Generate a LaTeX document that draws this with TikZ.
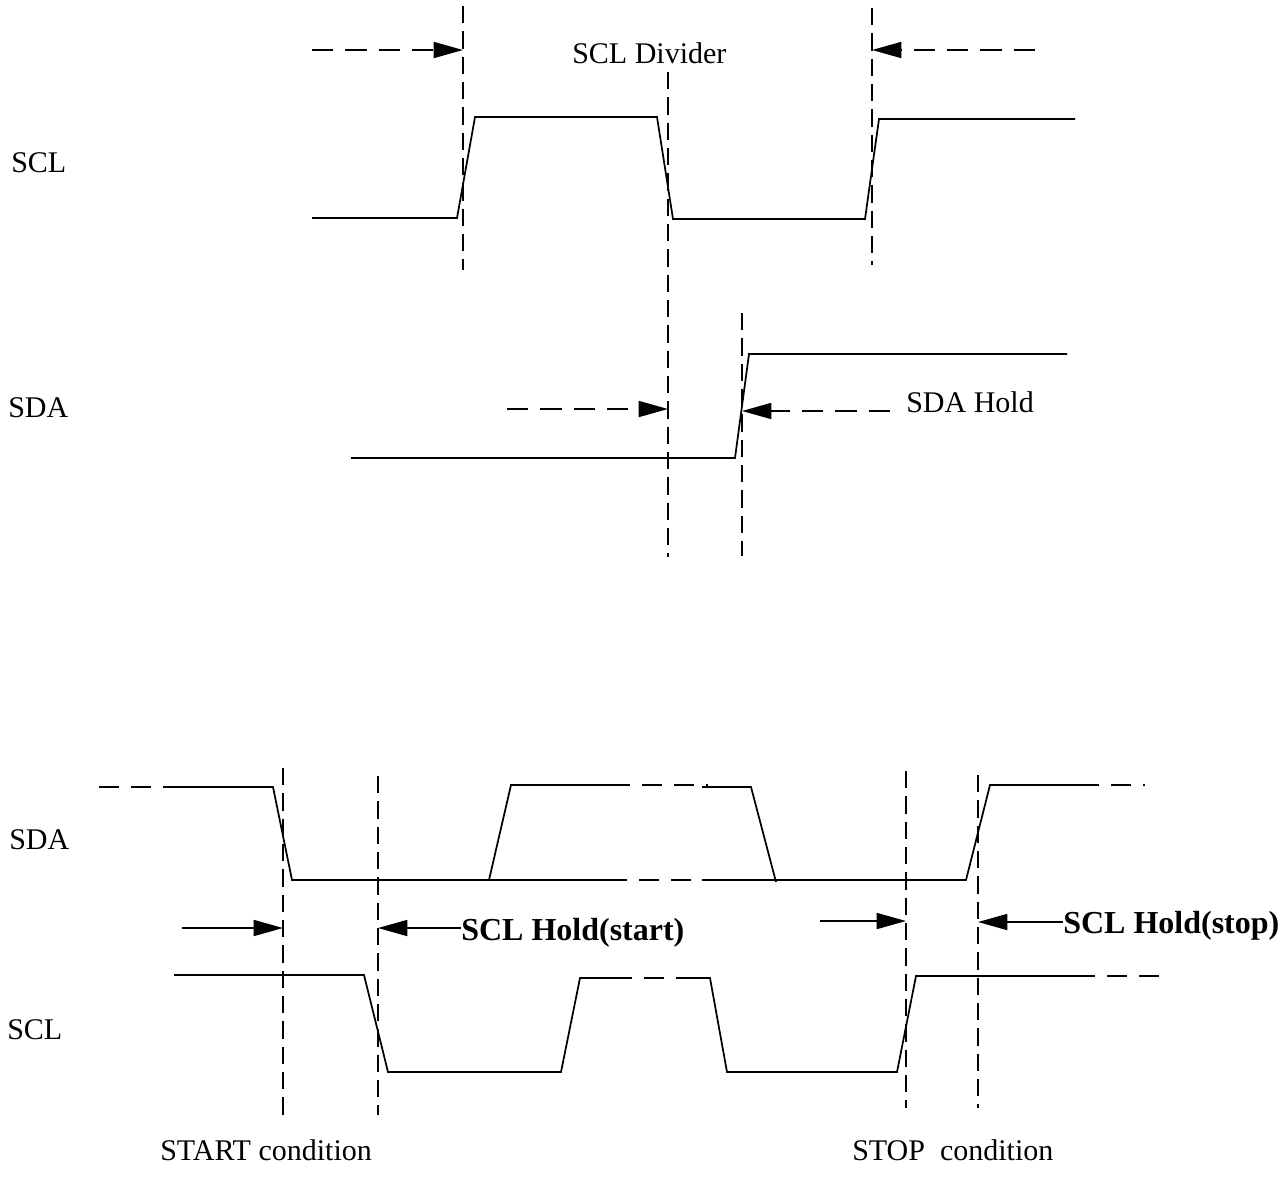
\documentclass[tikz,border=0pt]{standalone}
\usepackage{fontspec}
\setmainfont{Liberation Serif}
\usetikzlibrary{arrows.meta}
\begin{document}
\begin{tikzpicture}[x=0.75pt,y=-0.75pt,
  wave/.style={line width=1.3pt, line join=miter},
  guide/.style={line width=1.2pt, dash pattern=on 13pt off 6pt},
  ext/.style={line width=1.3pt, dash pattern=on 15pt off 9pt},
  darrow/.style={line width=1.3pt, dash pattern=on 16pt off 9pt, -{Triangle[length=22pt,width=12pt]}},
  sarrow/.style={line width=1.3pt, -{Triangle[length=22pt,width=12pt]}},
  lab/.style={anchor=base west, inner sep=0pt, font=\fontsize{22.5}{27}\selectfont},
  blab/.style={anchor=base west, inner sep=0pt, font=\fontsize{24}{29}\selectfont\bfseries}]
\useasboundingbox[fill=white] (0,0) rectangle (1288,1189);

% ---------- labels ----------
\node[lab] (sclA) at (11,172) {SCL};
\node[lab] (sdaA) at (8,417) {SDA};
\node[lab] (sdaB) at (9,849) {SDA};
\node[lab] (sclB) at (7,1039) {SCL};
\node[lab] (div) at (572,63) {SCL Divider};
\node[lab] (sdah) at (906,412) {SDA Hold};
\node[blab] (hstart) at (461,940) {SCL Hold(start)};
\node[blab] (hstop) at (1063,933) {SCL Hold(stop)};
\node[lab] (startc) at (160,1160) {START condition};
\node[lab] (stopc) at (852,1160) {STOP\ \ condition};

% ---------- top guides ----------
\draw[guide] (463,6) -- (463,270);
\draw[guide] (668,72) -- (668,557);
\draw[guide] (872,8) -- (872,265);
\draw[guide] (742,313) -- (742,556);

% ---------- top SCL ----------
\draw[wave] (312,218) -- (457,218) -- (475,117) -- (657,117) -- (673,219) -- (865,219) -- (879,119) -- (1075,119);
% ---------- top SDA ----------
\draw[wave] (351,458) -- (735,458) -- (749,354) -- (1067,354);

% ---------- top arrows ----------
\coordinate (a1s) at (312,50); \coordinate (a1e) at (463,50);
\coordinate (a2s) at (1035,50); \coordinate (a2e) at (872,50);
\coordinate (a3s) at (507,409); \coordinate (a3e) at (668,409);
\coordinate (a4s) at (890,411); \coordinate (a4e) at (742,411);
\draw[darrow] (a1s) -- (a1e);
\draw[darrow] (a2s) -- (a2e);
\draw[darrow] (a3s) -- (a3e);
\draw[darrow] (a4s) -- (a4e);

% ---------- bottom guides ----------
\draw[guide] (283,768) -- (283,1122);
\draw[guide] (378,776) -- (378,1115);
\draw[guide] (906,771) -- (906,1108);
\draw[guide] (978,775) -- (978,1108);

% ---------- bottom SDA ----------
\draw[ext] (99,787) -- (176,787);
\draw[wave] (176,787) -- (273,787) -- (292,880) -- (607,880);
\draw[wave] (489,880) -- (511,785) -- (610,785);
\draw[ext] (610,785) -- (708,785);
\draw[wave] (702,787) -- (751,787) -- (776,882);
\draw[ext] (607,880) -- (702,880);
\draw[wave] (702,880) -- (966,880) -- (990,785) -- (1079,785);
\draw[ext] (1079,785) -- (1145,785);

% ---------- bottom SCL ----------
\draw[wave] (174,975) -- (364,975) -- (388,1072) -- (561,1072) -- (580,978) -- (612,978);
\draw[ext] (612,978) -- (680,978);
\draw[wave] (680,978) -- (710,978) -- (727,1072) -- (897,1072) -- (916,976) -- (1075,976);
\draw[ext] (1075,976) -- (1160,976);

% ---------- bottom arrows ----------
\coordinate (b1s) at (182,928); \coordinate (b1e) at (283,928);
\coordinate (b2s) at (461,928); \coordinate (b2e) at (378,928);
\coordinate (b3s) at (820,921); \coordinate (b3e) at (906,921);
\coordinate (b4s) at (1063,922); \coordinate (b4e) at (978,922);
\draw[sarrow] (b1s) -- (b1e);
\draw[sarrow] (b2s) -- (b2e);
\draw[sarrow] (b3s) -- (b3e);
\draw[sarrow] (b4s) -- (b4e);
\end{tikzpicture}
\end{document}
